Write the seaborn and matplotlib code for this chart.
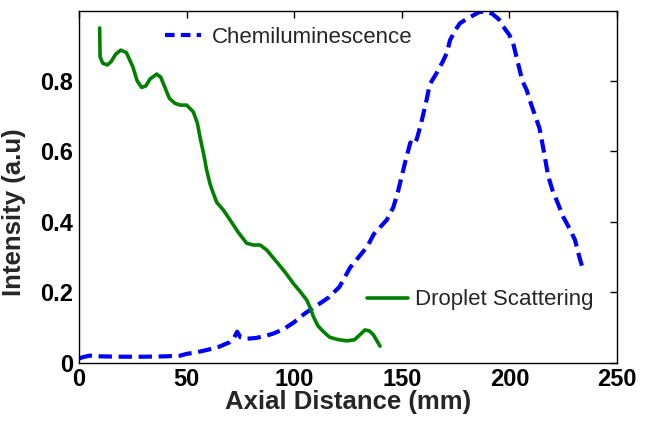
import numpy as np
import pandas as pd
import seaborn as sns
import matplotlib
matplotlib.use("Agg")
import matplotlib.pyplot as plt
from matplotlib.lines import Line2D

# ---- data ----
chem_x = [0, 2, 5, 10, 20, 30, 40, 47, 50, 55, 60, 65, 70, 72, 73.5, 75, 78, 82, 86, 90,
          95, 100, 105, 110, 116, 121, 126, 130, 134, 137, 140, 143, 146, 148, 150, 152,
          154, 155.5, 157, 159, 161.5, 163, 166, 169, 171, 172.4, 175, 177, 180, 183, 186,
          189, 192, 195, 197, 200, 202, 204, 206, 208, 210, 212, 214, 216, 218, 220, 222,
          225, 228, 230.5, 232.5, 234.5]
chem_y = [0.012, 0.016, 0.020, 0.018, 0.017, 0.017, 0.018, 0.020, 0.025, 0.030, 0.037,
          0.045, 0.058, 0.070, 0.088, 0.072, 0.068, 0.070, 0.075, 0.082, 0.095, 0.115,
          0.140, 0.160, 0.185, 0.215, 0.270, 0.300, 0.330, 0.365, 0.385, 0.405, 0.440,
          0.480, 0.530, 0.580, 0.625, 0.618, 0.635, 0.680, 0.745, 0.790, 0.820, 0.854,
          0.880, 0.915, 0.945, 0.963, 0.975, 0.985, 0.995, 0.997, 0.990, 0.975, 0.955,
          0.930, 0.900, 0.850, 0.800, 0.774, 0.735, 0.700, 0.665, 0.600, 0.530, 0.490,
          0.460, 0.414, 0.380, 0.348, 0.300, 0.258]

drop_x = [9.6, 9.8, 11, 13.2, 15, 17, 19.4, 22, 25, 27, 29.1, 31, 33, 36.1, 38, 40, 42,
          44.6, 47, 50, 53.1, 55, 56.2, 58, 59.3, 61, 62.4, 64, 67.1, 70.2, 74, 77.9, 81,
          84.1, 87.2, 92, 96, 99.6, 103, 105.8, 107.5, 108.9, 111, 112.8, 115, 116.6, 120,
          124.4, 128, 131, 132.9, 135, 136.8, 139.9]
drop_y = [0.95, 0.868, 0.850, 0.845, 0.855, 0.875, 0.887, 0.880, 0.840, 0.800, 0.781,
          0.785, 0.805, 0.819, 0.810, 0.780, 0.750, 0.736, 0.731, 0.731, 0.712, 0.680,
          0.641, 0.590, 0.547, 0.505, 0.481, 0.455, 0.433, 0.405, 0.370, 0.339, 0.334,
          0.334, 0.320, 0.285, 0.255, 0.225, 0.200, 0.178, 0.155, 0.131, 0.105, 0.093,
          0.080, 0.072, 0.066, 0.062, 0.065, 0.082, 0.093, 0.090, 0.079, 0.047]

series_names = ["Chemiluminescence", "Droplet Scattering"]
x_ticks = [0, 50, 100, 150, 200, 250]
y_ticks = [0, 0.2, 0.4, 0.6, 0.8]
y_tick_labels = ["0", "0.2", "0.4", "0.6", "0.8"]

sns.set_style("white")
plt.rcParams["font.family"] = ["Liberation Sans", "DejaVu Sans"]

W, H = 648, 424
fig = plt.figure(figsize=(W / 100, H / 100), dpi=100)
ax = fig.add_axes([79 / W, 1 - 362.7 / H, (617 - 79) / W, (362.7 - 11) / H])

chem_df = pd.DataFrame({"x": chem_x, "y": chem_y})
drop_df = pd.DataFrame({"x": drop_x, "y": drop_y})

sns.lineplot(data=chem_df, x="x", y="y", ax=ax, sort=False, estimator=None,
             color=(0, 0, 1), linewidth=3.0)
ax.lines[-1].set_linestyle((0, (3.2, 1.6)))
sns.lineplot(data=drop_df, x="x", y="y", ax=ax, sort=False, estimator=None,
             color=(0, 0.5, 0), linewidth=2.6)
for ln in ax.lines:
    ln.set_solid_joinstyle("round")
    ln.set_dash_joinstyle("round")

ax.set_xlim(0, 250)
ax.set_ylim(0, 0.998)
ax.set_xticks(x_ticks)
ax.set_xticklabels([str(t) for t in x_ticks])
ax.set_yticks(y_ticks)
ax.set_yticklabels(y_tick_labels)

for sp in ax.spines.values():
    sp.set_visible(True)
    sp.set_color("black")
    sp.set_linewidth(1.0)

ax.tick_params(direction="in", length=5, width=1.0, top=True, right=True,
               labelsize=17, pad=4, colors="black")
for lab in ax.get_xticklabels() + ax.get_yticklabels():
    lab.set_fontweight("bold")

ax.set_xlabel("Axial Distance (mm)", fontsize=18.5, fontweight="bold", labelpad=-1)
ax.set_ylabel("Intensity (a.u)", fontsize=18.5, fontweight="bold", labelpad=1)
ax.yaxis.set_label_coords(-0.098, 0.428)

h1 = Line2D([], [], color=(0, 0, 1), linewidth=3.0, linestyle=(0, (2.3, 1.5)))
h2 = Line2D([], [], color=(0, 0.5, 0), linewidth=2.6)

leg1 = ax.legend(handles=[h1], labels=[series_names[0]], loc="center left",
                 bbox_to_anchor=(165 / W, 1 - 37.5 / H), bbox_transform=fig.transFigure,
                 frameon=False, fontsize=16, handlelength=1.6, handletextpad=0.5,
                 borderpad=0, borderaxespad=0)
ax.add_artist(leg1)
ax.legend(handles=[h2], labels=[series_names[1]], loc="center left",
          bbox_to_anchor=(367 / W, 1 - 300 / H), bbox_transform=fig.transFigure,
          frameon=False, fontsize=16, handlelength=1.85, handletextpad=0.3,
          borderpad=0, borderaxespad=0)

fig.savefig("out.png", dpi=100, facecolor="white")
